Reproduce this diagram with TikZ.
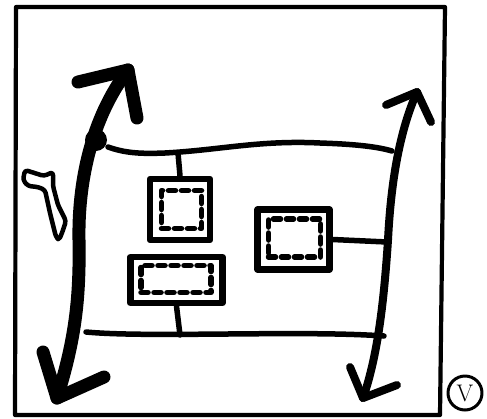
\documentclass[tikz,border=0pt]{standalone}
\usepackage{fontspec}
\setsansfont{DejaVu Sans}
\begin{document}
\begin{tikzpicture}[x=1pt,y=-1pt,line cap=round,line join=round,
  frame/.style={line width=4.2pt},
  outerbox/.style={draw,line width=6.5pt,inner sep=0pt},
  innerbox/.style={draw,line width=5.5pt,dash pattern=on 7pt off 6pt,inner sep=0pt},
  wire/.style={line width=5.5pt},
  bigarrow/.style={line width=13pt},
  thinarrow/.style={line width=8pt},
  glyph/.style={line width=4.5pt,rounded corners=3pt}]
\useasboundingbox (0,0) rectangle (487,418);
% frame
\draw[frame] (16,7) -- (445,7) -- (440,415) -- (15,415) -- cycle;
% boxes
\node[outerbox,minimum width=60pt,minimum height=61pt] (b1) at (180,209.5) {};
\node[innerbox,minimum width=40pt,minimum height=38pt] (i1) at (181.5,209.5) {};
\node[outerbox,minimum width=92pt,minimum height=46pt] (b2) at (176.5,280) {};
\node[innerbox,minimum width=70pt,minimum height=27pt] (i2) at (176,279) {};
\node[outerbox,minimum width=72pt,minimum height=60pt] (b3) at (293.5,239.5) {};
\node[innerbox,minimum width=52pt,minimum height=38pt] (i3) at (294.5,238) {};
% coordinates on shafts and lines
\coordinate (ltop) at (128,70);
\coordinate (lbot) at (57,398);
\coordinate (rtop) at (417,92);
\coordinate (rbot) at (363,398);
\coordinate (tl0) at (108,147);
\coordinate (tl1) at (392,151);
\coordinate (bl0) at (86,332);
\coordinate (bl1) at (384,336);
\coordinate (t1) at (178,153);
\coordinate (t2) at (180,335);
\coordinate (t3) at (387,242);
% left big arrow
\draw[bigarrow] (lbot) .. controls (75,340) and (80,300) .. (79,240)
   .. controls (78,185) and (90,120) .. (ltop);
\draw[bigarrow] (78,82) -- (ltop) -- (137,118);
\draw[bigarrow] (43,352) -- (lbot) -- (104,377);
\fill (96,140) circle (11pt);
% right arrow
\draw[thinarrow] (rbot) .. controls (378,355) and (384,300) .. (388,240)
   .. controls (391,180) and (400,130) .. (rtop);
\draw[thinarrow] (386,105) -- (rtop) -- (431,122);
\draw[thinarrow] (350,367) -- (rbot) -- (397,385);
% lines
\draw[wire] (tl0) .. controls (125,153) and (140,154) .. (165,153)
   .. controls (220,150) and (260,140) .. (320,143)
   .. controls (350,144) and (375,146) .. (tl1);
\draw[wire] (bl0) .. controls (150,338) and (300,330) .. (bl1);
\draw[wire] (b1.north) -- (t1);
\draw[wire] (b2.south) -- (t2);
\draw[wire] (b3.east) -- (t3);
% glyph
\draw[glyph] (25,170) -- (44,176) -- (53,172) -- (53,186) -- (58,205)
  -- (66,221) -- (62,233) -- (59,240) -- (56,237) -- (50,213) -- (45,190)
  -- (38,187) -- (28,186) -- (23,180) -- cycle;
% circled V
\node[draw,circle,line width=3pt,minimum size=34pt,inner sep=0pt,font=\fontsize{24}{24}\selectfont] (v) at (465,393) {V};
\end{tikzpicture}
\end{document}
